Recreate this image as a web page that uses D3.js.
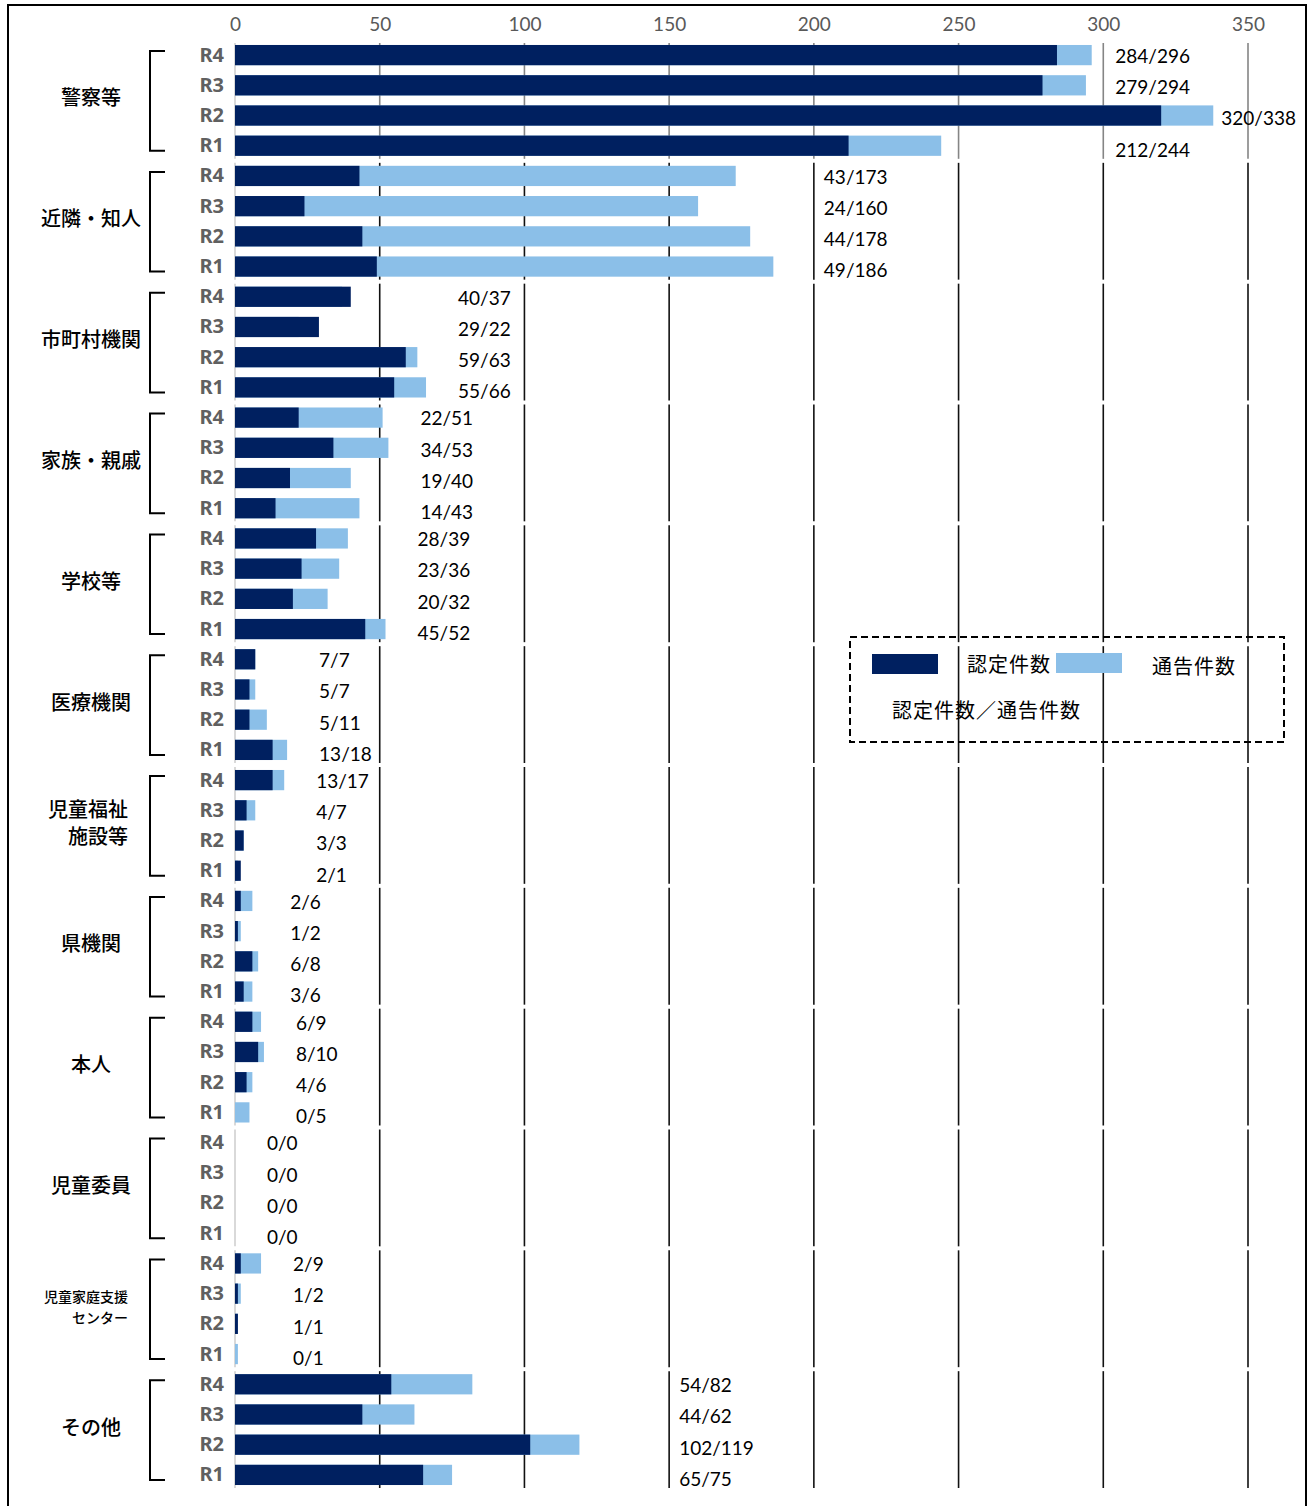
<!DOCTYPE html>
<html>
<head>
<meta charset="utf-8">
<script src="https://cdn.jsdelivr.net/npm/d3@7"></script>
<style>
  body { margin: 0; background: #fff; }
  text { font-family: "Noto Sans CJK JP", sans-serif; }
</style>
</head>
<body>
<div id="chart"></div>
<script>
// categories (top to bottom)
const groups = ["警察等", "近隣・知人", "市町村機関", "家族・親戚", "学校等", "医療機関",
	"児童福祉施設等", "県機関", "本人", "児童委員", "児童家庭支援センター", "その他"];
// how each category name is written on the left
const groupLines = [["警察等"], ["近隣・知人"], ["市町村機関"], ["家族・親戚"], ["学校等"], ["医療機関"],
	["児童福祉", "施設等"], ["県機関"], ["本人"], ["児童委員"], ["児童家庭支援", "センター"], ["その他"]];
const years = ["R4", "R3", "R2", "R1"];

// 認定件数, order R4, R3, R2, R1
const certified = [
	[284, 279, 320, 212],
	[43, 24, 44, 49],
	[40, 29, 59, 55],
	[22, 34, 19, 14],
	[28, 23, 20, 45],
	[7, 5, 5, 13],
	[13, 4, 3, 2],
	[2, 1, 6, 3],
	[6, 8, 4, 0],
	[0, 0, 0, 0],
	[2, 1, 1, 0],
	[54, 44, 102, 65]
];
// 通告件数, order R4, R3, R2, R1
const notified = [
	[296, 294, 338, 244],
	[173, 160, 178, 186],
	[37, 22, 63, 66],
	[51, 53, 40, 43],
	[39, 36, 32, 52],
	[7, 7, 11, 18],
	[17, 7, 3, 1],
	[6, 2, 8, 6],
	[9, 10, 6, 5],
	[0, 0, 0, 0],
	[9, 2, 1, 1],
	[82, 62, 119, 75]
];
const xTicks = [0, 50, 100, 150, 200, 250, 300, 350];
const legendLabels = ["認定件数", "通告件数", "認定件数／通告件数"];

const darkBlue = "#002060", lightBlue = "#8bbfe8";

function drawChart() {
	const width = 1310, height = 1506;

	const svg = d3.select("#chart")
		.append("svg")
		.attr("width", width)
		.attr("height", height);

	// outer frame
	svg.append("rect")
		.attr("x", 8).attr("y", 5)
		.attr("width", 1298).attr("height", 1530)
		.attr("fill", "none")
		.attr("stroke", "#000")
		.attr("stroke-width", 2);

	const x = d3.scaleLinear().domain([0, 350]).range([235, 1248]);
	const yGroup = d3.scaleBand().domain(groups).range([40, 1490]);
	const yRow = d3.scaleBand().domain(years)
		.range([0, yGroup.bandwidth()])
		.paddingInner(0.33)
		.paddingOuter(0.165);

	// one record per bar
	const rows = [];
	groups.forEach((g, gi) => {
		const gMax = d3.max(notified[gi].concat(certified[gi]));
		years.forEach((yr, ri) => {
			rows.push({group: g, gi: gi, ri: ri, year: yr, c: certified[gi][ri], n: notified[gi][ri], gMax: gMax});
		});
	});
	const rowY = d => yGroup(d.group) + yRow(d.year);
	const rowMid = d => rowY(d) + yRow.bandwidth() / 2;

	// top axis
	const axis = svg.append("g")
		.attr("transform", "translate(0,38)")
		.call(d3.axisTop(x).tickValues(xTicks).tickSize(0).tickPadding(7));
	axis.select(".domain").remove();
	axis.selectAll("text")
		.style("font-family", "Lato, sans-serif")
		.style("font-size", "19px")
		.attr("fill", "#595959");

	// grid lines, drawn per category block
	const grid = svg.append("g");
	groups.forEach((g, gi) => {
		const top = yGroup(g) + (gi === 0 ? 3 : 2);
		const bottom = yGroup(g) + yGroup.bandwidth() - 2;
		grid.selectAll(null)
			.data(xTicks.slice(1))
			.enter()
			.append("line")
			.attr("x1", d => x(d)).attr("x2", d => x(d))
			.attr("y1", top).attr("y2", bottom)
			.attr("stroke", gi === 0 ? "#858585" : "#111")
			.attr("stroke-width", 1.6);
		grid.append("line")
			.attr("x1", x(0)).attr("x2", x(0))
			.attr("y1", top).attr("y2", bottom)
			.attr("stroke", "#d9d9d9")
			.attr("stroke-width", 2);
	});

	// bars: 通告 behind, 認定 in front
	svg.selectAll(".bar-n")
		.data(rows)
		.enter()
		.append("rect")
		.attr("class", "bar-n")
		.attr("x", x(0))
		.attr("y", rowY)
		.attr("width", d => x(d.n) - x(0))
		.attr("height", yRow.bandwidth())
		.attr("fill", lightBlue);

	svg.selectAll(".bar-c")
		.data(rows)
		.enter()
		.append("rect")
		.attr("class", "bar-c")
		.attr("x", x(0))
		.attr("y", rowY)
		.attr("width", d => x(d.c) - x(0))
		.attr("height", yRow.bandwidth())
		.attr("fill", darkBlue);

	// value labels "認定/通告"
	const vals = svg.selectAll(".val")
		.data(rows)
		.enter()
		.append("text")
		.attr("class", "val")
		.attr("y", d => rowMid(d) + 3 + d.ri)
		.attr("dominant-baseline", "middle")
		.style("font-family", "Lato, sans-serif")
		.style("font-size", "19px")
		.attr("fill", "#000")
		.text(d => d.c + "/" + d.n);

	// one label column per block, past its longest bar and clear of the grid lines
	const colX = {};
	groups.forEach((g, gi) => {
		const gMax = d3.max(notified[gi].concat(certified[gi]));
		const w = d3.max(vals.filter(d => d.gi === gi).nodes(), n => n.getComputedTextLength());
		let pos = Math.min(x(gMax) + 32, x(300) + 12);
		xTicks.forEach(t => {
			if (t < 300 && x(t) >= pos - 4 && x(t) <= pos + w + 4) pos = x(t) + 10;
		});
		colX[g] = pos;
	});
	vals.attr("x", d => Math.max(colX[d.group], x(Math.max(d.c, d.n)) + 8));

	// year labels
	svg.selectAll(".yr")
		.data(rows)
		.enter()
		.append("text")
		.attr("class", "yr")
		.attr("x", 224)
		.attr("y", d => rowMid(d) + 1)
		.attr("text-anchor", "end")
		.attr("dominant-baseline", "middle")
		.style("font-family", "'Noto Sans', sans-serif")
		.style("font-weight", "bold")
		.style("font-size", "20px")
		.attr("fill", "#606060")
		.text(d => d.year);

	// brackets
	const firstY = years[0], lastY = years[years.length - 1];
	svg.selectAll(".bracket")
		.data(groups)
		.enter()
		.append("path")
		.attr("class", "bracket")
		.attr("d", g => {
			const t = yGroup(g) + yRow(firstY) + yRow.bandwidth() / 2 - 4;
			const b = yGroup(g) + yRow(lastY) + yRow.bandwidth() / 2 + 5;
			return "M165," + t + " H150 V" + b + " H165";
		})
		.attr("fill", "none")
		.attr("stroke", "#000")
		.attr("stroke-width", 2);

	// category labels
	groups.forEach((g, gi) => {
		const lines = groupLines[gi];
		const mid = yGroup(g) + yGroup.bandwidth() / 2;
		const small = lines.join("").length > 8;
		const fs = small ? 14 : 20;
		const lh = small ? 21 : 27;
		const lx = lines.length > 1 ? 128 : 91;
		const t = svg.append("text")
			.attr("x", lx)
			.attr("text-anchor", lines.length > 1 ? "end" : "middle")
			.attr("dominant-baseline", "middle")
			.style("font-size", fs + "px")
			.style("font-weight", 500)
			.attr("fill", "#000");
		lines.forEach((l, li) => {
			t.append("tspan")
				.attr("x", lx)
				.attr("y", mid + (li - (lines.length - 1) / 2) * lh)
				.text(l);
		});
	});

	// legend
	const lg = svg.append("g");
	lg.append("rect")
		.attr("x", 850).attr("y", 637)
		.attr("width", 434).attr("height", 105)
		.attr("fill", "none")
		.attr("stroke", "#000")
		.attr("stroke-width", 2)
		.attr("stroke-dasharray", "7,4");
	lg.append("rect")
		.attr("x", 872).attr("y", 654).attr("width", 66).attr("height", 20)
		.attr("fill", darkBlue);
	lg.append("rect")
		.attr("x", 1056).attr("y", 653).attr("width", 66).attr("height", 20)
		.attr("fill", lightBlue);
	[[967, 667], [1152, 669], [892, 713]].forEach((p, i) => {
		lg.append("text")
			.attr("x", p[0]).attr("y", p[1])
			.attr("dominant-baseline", "middle")
			.style("font-size", "20px")
			.style("letter-spacing", "1px")
			.text(legendLabels[i]);
	});
}

drawChart();
</script>
</body>
</html>
